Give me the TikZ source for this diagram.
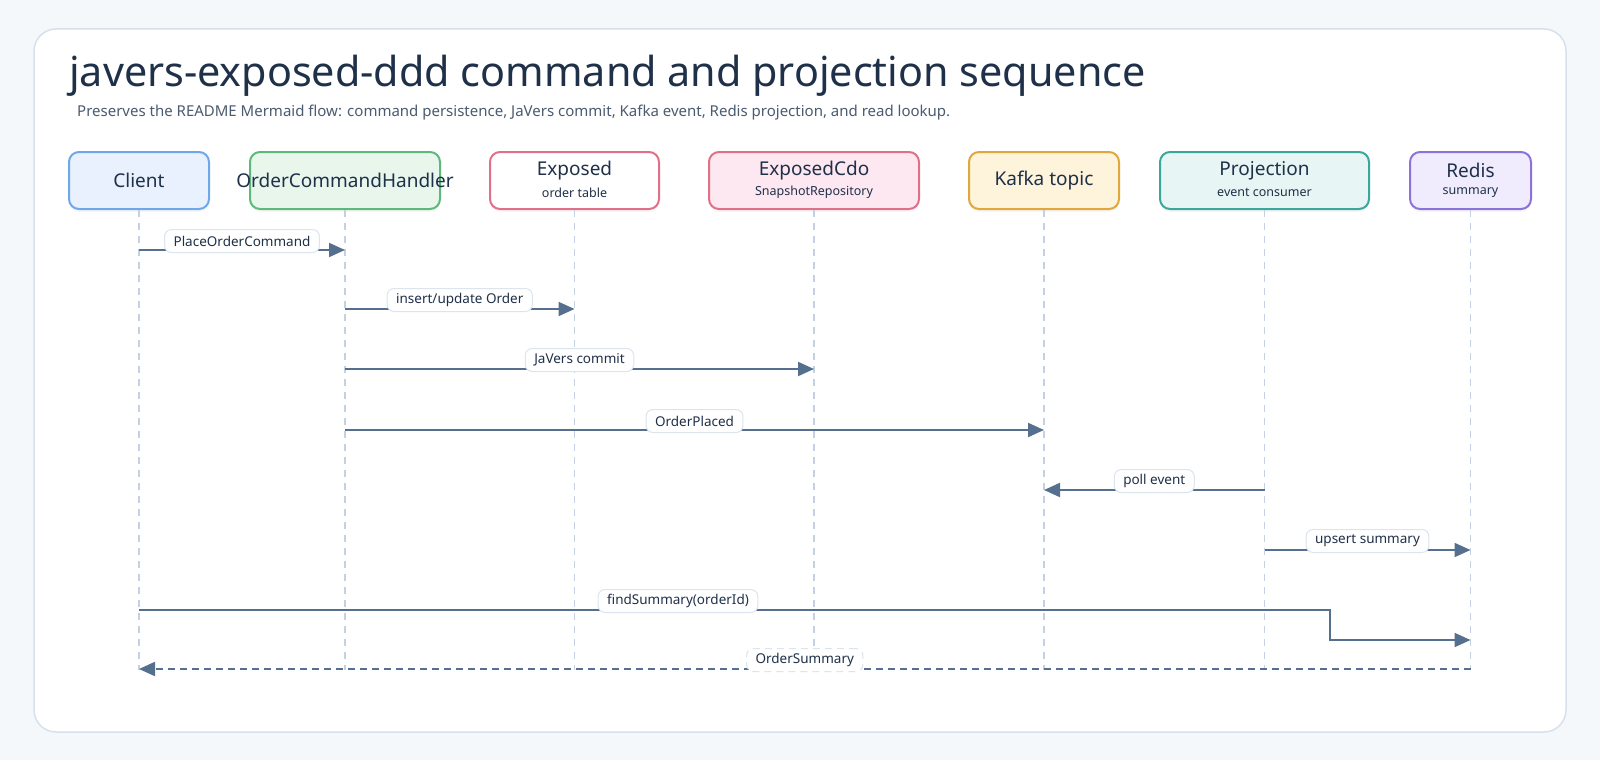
\documentclass[tikz,border=0pt]{standalone}
\usepackage{fontspec}
\setmainfont{Noto Sans}
\usetikzlibrary{arrows.meta,positioning,calc,shadows}
\definecolor{bgc}{HTML}{F5F8FB}
\definecolor{cardc}{HTML}{D6E1EC}
\definecolor{titlec}{HTML}{1F3049}
\definecolor{subc}{HTML}{4B5B70}
\definecolor{lifec}{HTML}{C3D1E2}
\definecolor{msgc}{HTML}{55708F}
\definecolor{lblc}{HTML}{DCE4EE}
\definecolor{bluel}{HTML}{6FA8E8}\definecolor{bluef}{HTML}{E8F1FD}
\definecolor{greenl}{HTML}{5DB97A}\definecolor{greenf}{HTML}{E8F6EC}
\definecolor{pinkl}{HTML}{E07088}\definecolor{pinkf}{HTML}{FDE7F0}
\definecolor{orangel}{HTML}{E0A73C}\definecolor{orangef}{HTML}{FEF3DB}
\definecolor{teall}{HTML}{3BA69A}\definecolor{tealf}{HTML}{E7F6F4}
\definecolor{purplel}{HTML}{8D72D9}\definecolor{purplef}{HTML}{F0ECFD}

\begin{document}
\begin{tikzpicture}[x=1pt,y=-1pt,>={Triangle[length=16pt,width=14pt]},
  pbox/.style 2 args={draw=#1,fill=#2,line width=2pt,rounded corners=10pt,minimum height=57pt,inner sep=0,
    drop shadow={opacity=0.07,shadow xshift=0pt,shadow yshift=-3pt}},
  ptext/.style={text=titlec,font=\fontsize{19}{22}\selectfont,inner sep=0},
  psub/.style={text=titlec,font=\fontsize{12.5}{14}\selectfont,inner sep=0},
  life/.style={draw=lifec,line width=1.5pt,dash pattern=on 7pt off 6pt},
  msg/.style={draw=msgc,line width=2pt,->},
  ret/.style={draw=msgc,line width=2pt,->,dash pattern=on 7pt off 5pt},
  lbl/.style={fill=white,draw=lblc,line width=1pt,rounded corners=7pt,inner xsep=9pt,inner ysep=0pt,
    minimum height=23pt,text=titlec,font=\fontsize{13.5}{15}\selectfont,yshift=9pt}]
% page and card
\fill[bgc] (0,0) rectangle (1600,760);
\draw[cardc,line width=1.5pt,fill=white,rounded corners=22pt] (34,29) rectangle (1566,732);
\node[anchor=base west,text=titlec,font=\fontsize{41.3}{46}\selectfont,inner sep=0] (title) at (69,86)
  {javers-exposed-ddd command and projection sequence};
\node[anchor=base west,text=subc,font=\fontsize{15}{17}\selectfont,inner sep=0] (sub) at (77,116)
  {Preserves the README Mermaid flow: command persistence, JaVers commit, Kafka event, Redis projection, and read lookup.};

% participants
\node[pbox={bluel}{bluef},minimum width=140pt] (cl) at (139,180.5) {};
\node[pbox={greenl}{greenf},minimum width=190pt] (och) at (345,180.5) {};
\node[pbox={pinkl}{white},minimum width=169pt] (ex) at (574.5,180.5) {};
\node[pbox={pinkl}{pinkf},minimum width=210pt] (cdo) at (814,180.5) {};
\node[pbox={orangel}{orangef},minimum width=150pt] (kf) at (1044,180.5) {};
\node[pbox={teall}{tealf},minimum width=209pt] (pj) at (1264.5,180.5) {};
\node[pbox={purplel}{purplef},minimum width=121pt] (rd) at (1470.5,180.5) {};
\node[ptext] (cl-t) at (cl) {Client};
\node[ptext] (och-t) at (och) {OrderCommandHandler};
\node[ptext] (ex-t) at ($(ex)+(0,-10)$) {Exposed};
\node[psub] (ex-s) at ($(ex)+(0,12)$) {order table};
\node[ptext] (cdo-t) at ($(cdo)+(0,-10)$) {ExposedCdo};
\node[psub] (cdo-s) at ($(cdo)+(0,12)$) {SnapshotRepository};
\node[ptext] (kf-t) at (kf) {Kafka topic};
\node[ptext] (pj-t) at ($(pj)+(0,-10)$) {Projection};
\node[psub] (pj-s) at ($(pj)+(0,12)$) {event consumer};
\node[ptext] (rd-t) at ($(rd)+(0,-10)$) {Redis};
\node[psub] (rd-s) at ($(rd)+(0,12)$) {summary};

% lifelines
\foreach \p in {cl,och,ex,cdo,kf,pj,rd}
  \draw[life] (\p.south) -- (\p.south |- 0,670);

% messages
\draw[msg] (cl |- 0,250) -- (och |- 0,250) node[midway,lbl] (m1) {PlaceOrderCommand};
\draw[msg] (och |- 0,309) -- (ex |- 0,309) node[midway,lbl] (m2) {insert/update Order};
\draw[msg] (och |- 0,369) -- (cdo |- 0,369) node[midway,lbl] (m3) {JaVers commit};
\draw[msg] (och |- 0,430) -- (kf |- 0,430) node[midway,lbl] (m4) {OrderPlaced};
\draw[msg] (pj |- 0,490) -- (kf |- 0,490) node[midway,lbl] (m5) {poll event};
\draw[msg] (pj |- 0,550) -- (rd |- 0,550) node[midway,lbl] (m6) {upsert summary};
\coordinate (bend) at (1330,610);
\draw[msg] (cl |- bend) -- (bend) -- ++(0,30) -- (rd |- 0,640);
\node[lbl] (m7) at (678,610) {findSummary(orderId)};
\draw[ret] (rd |- 0,669) -- (cl |- 0,669) node[midway,lbl] (m8) {OrderSummary};
\end{tikzpicture}
\end{document}
